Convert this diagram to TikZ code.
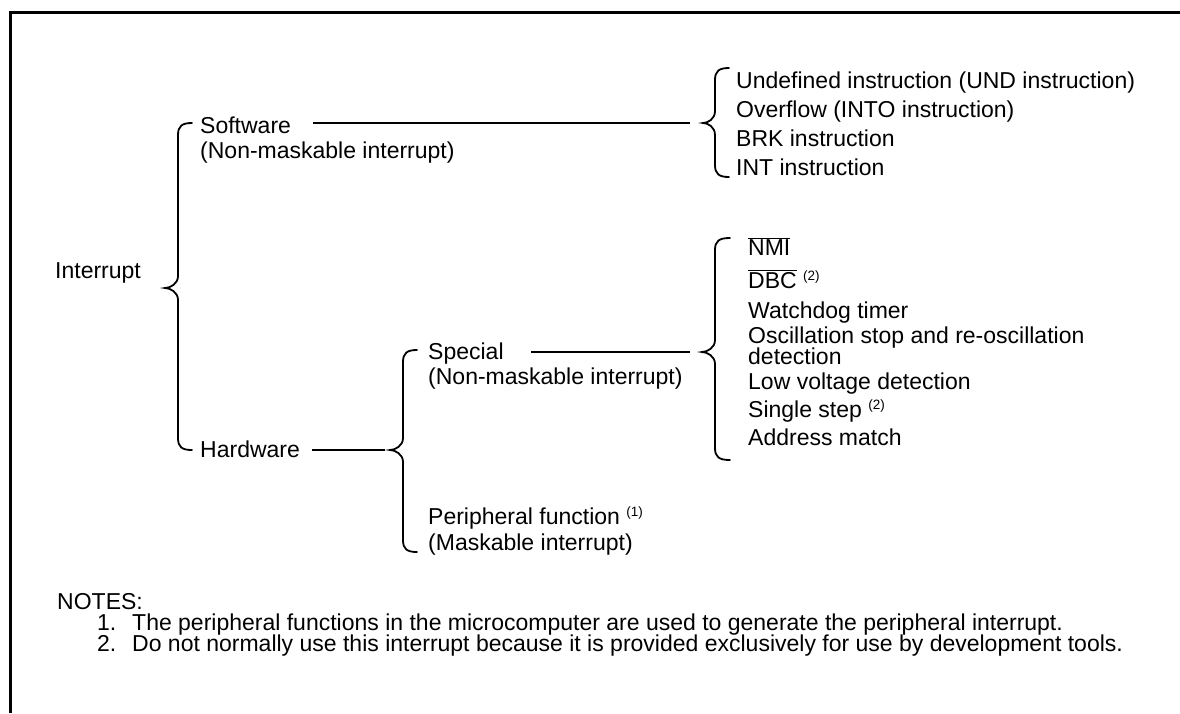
\documentclass[tikz,border=0pt]{standalone}
\usepackage{fontspec}
\setmainfont{Liberation Sans}
\newcommand\mybrc[6]{% #1 vertical x, #2 top y, #3 tip y, #4 bottom y, #5 tip x, #6 hook x
  \draw[bracestyle] (#6,#2) .. controls (#1+4,#2) and (#1,#2+3) .. (#1,#2+12)
    -- (#1,#3-12) .. controls (#1,#3-4) and (#5+5,#3) .. (#5,#3)
    .. controls (#5+5,#3) and (#1,#3+4) .. (#1,#3+12)
    -- (#1,#4-12) .. controls (#1,#4-3) and (#1+4,#4) .. (#6,#4);}
\newcommand\sref[1]{ \raisebox{8pt}{\fontsize{13.5}{14}\selectfont(#1)}}
\begin{document}
\begin{tikzpicture}[x=1pt,y=-1pt,
  txt/.style={anchor=base west, inner sep=0pt, font=\fontsize{23}{28}\selectfont},
  ntxt/.style={anchor=base west, inner sep=0pt, text height=14pt, text depth=3pt, font=\fontsize{23}{24}\selectfont},
  bracestyle/.style={line width=1.8pt, line cap=round},
  link/.style={line width=1.6pt}]
\useasboundingbox (0,0) rectangle (1180,713);
\draw[line width=3pt] (10,713) -- (10,12.5) -- (1180,12.5);

% main brace
\mybrc{178}{123}{288}{450}{165}{192}
\coordinate (maintip) at (165,288);
\node[txt] (intr) at (55,278) {Interrupt};

% software
\node[txt] (sw) at (200,133) {Software};
\node[txt] (swn) at (200,158) {(Non-maskable interrupt)};
\mybrc{715}{68}{123}{177}{703}{729}
\coordinate (swtip) at (703,123);
\draw[link] ([xshift=22pt]swtip -| sw.east) -- ([xshift=-13pt]swtip);
\node[txt] (s1) at (736,88) {Undefined instruction (UND instruction)};
\node[txt] (s2) at (736,117) {Overflow (INTO instruction)};
\node[txt] (s3) at (736,146) {BRK instruction};
\node[txt] (s4) at (736,175) {INT instruction};

% hardware
\node[txt] (hw) at (200,457) {Hardware};
\mybrc{403}{350}{450}{552}{390}{417}
\coordinate (hwtip) at (390,450);
\draw[link] ([xshift=12pt]hwtip -| hw.east) -- ([xshift=-5pt]hwtip);

% special
\node[txt] (sp) at (428,359) {Special};
\node[txt] (spn) at (428,384) {(Non-maskable interrupt)};
\mybrc{715}{238}{352}{460}{702}{730}
\coordinate (sptip) at (702,352);
\draw[link] ([xshift=27pt]sptip -| sp.east) -- ([xshift=-12pt]sptip);
\node[txt] (h1) at (748,255) {$\overline{\mbox{NMI}}$};
\node[txt] (h2) at (748,288) {$\overline{\mbox{DBC}}$\sref{2}};
\node[txt] (h3) at (748,318) {Watchdog timer};
\node[txt] (h4) at (748,343) {Oscillation stop and re-oscillation};
\node[txt] (h4b) at (748,364) {detection};
\node[txt] (h5) at (748,389) {Low voltage detection};
\node[txt] (h6) at (748,417) {Single step\sref{2}};
\node[txt] (h7) at (748,445) {Address match};

% peripheral
\node[txt] (pf) at (428,524) {Peripheral function\sref{1}};
\node[txt] (pfn) at (428,550) {(Maskable interrupt)};

% notes
\node[ntxt] (notes) at (57,609) {NOTES:};
\node[ntxt] (n1num) at (97,630) {1.};
\node[ntxt] (n1) at (132,630) {The peripheral functions in the microcomputer are used to generate the peripheral interrupt.};
\node[ntxt] (n2num) at (97,651) {2.};
\node[ntxt] (n2) at (132,651) {Do not normally use this interrupt because it is provided exclusively for use by development tools.};
\end{tikzpicture}
\end{document}
